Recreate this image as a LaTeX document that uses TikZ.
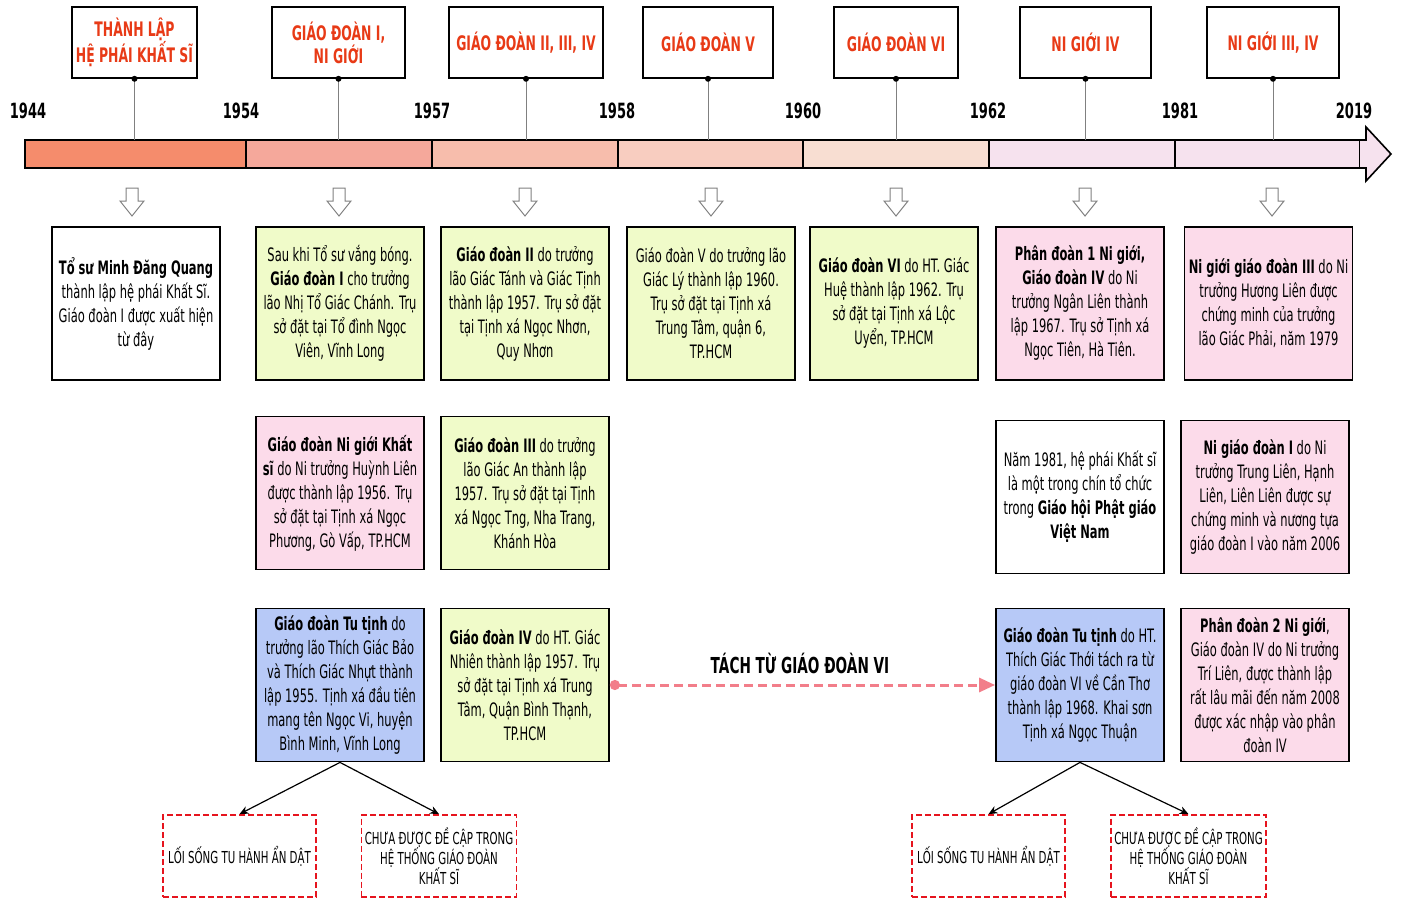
\documentclass[tikz,border=0pt]{standalone}
\usepackage{fontspec}
\setmainfont{DejaVu Sans}[FakeStretch=0.62]
\usetikzlibrary{arrows.meta}

\definecolor{labred}{RGB}{232,58,22}
\definecolor{boxyellow}{RGB}{240,251,201}
\definecolor{boxpink}{RGB}{252,219,234}
\definecolor{boxblue}{RGB}{183,201,247}
\definecolor{linkpink}{RGB}{242,126,138}
\definecolor{dashred}{RGB}{230,20,30}
\definecolor{segA}{RGB}{245,140,108}
\definecolor{segB}{RGB}{245,168,155}
\definecolor{segC}{RGB}{247,189,172}
\definecolor{segD}{RGB}{248,205,192}
\definecolor{segE}{RGB}{248,222,210}
\definecolor{segF}{RGB}{246,226,238}

\begin{document}
\begin{tikzpicture}[x=1pt, y=-1pt,
    labelbox/.style={draw, line width=1.6pt, fill=white, minimum height=71pt, inner sep=1pt,
        align=center, text=labred, font=\fontsize{20}{23}\selectfont\bfseries},
    infobox/.style={draw, line width=1.8pt, minimum width=168pt, minimum height=153pt,
        inner sep=1pt, align=center, font=\fontsize{18.5}{24}\selectfont},
    notebox/.style={draw=dashred, dash pattern=on 6pt off 3pt, line width=1.8pt,
        minimum width=153pt, minimum height=82pt, align=center, font=\fontsize{16.5}{20}\selectfont},
    yearlabel/.style={font=\fontsize{21}{24}\selectfont\bfseries},
    branch/.style={-{Stealth[length=9pt,width=8pt]}, line width=1.2pt},
    link/.style={{Circle[length=10pt]}-{Triangle[length=16pt,width=14pt]}, linkpink,
        line width=3pt, dash pattern=on 9pt off 5pt},
]
    \useasboundingbox (0,0) rectangle (1401,899);

    % Timeline bar
    \foreach \xa/\xb/\c in {25/246/segA, 246/432/segB, 432/618/segC, 618/803/segD,
                            803/989/segE, 989/1175/segF, 1175/1360/segF}
        \filldraw[fill=\c, line width=1.6pt] (\xa,140) rectangle (\xb,168);
    \fill[segF] (1360,140) -- (1366,140) -- (1366,127) -- (1391,154) -- (1366,181) -- (1366,168) -- (1360,168) -- cycle;
    \draw[line width=1.6pt] (1360,140) -- (1366,140) -- (1366,127) -- (1391,154) -- (1366,181) -- (1366,168) -- (1360,168);
    \coordinate (bartop) at (0,140);

    % Years
    \foreach \x/\yr in {28/1944, 241/1954, 432/1957, 617/1958, 803/1960, 988/1962, 1180/1981, 1354/2019}
        \node[yearlabel] (y\yr) at (\x,111) {\yr};

    % Period labels
    \node[labelbox, minimum width=125pt] (l1) at (134.5,42.5) {THÀNH LẬP\\HỆ PHÁI KHẤT SĨ};
    \node[labelbox, minimum width=133pt] (l2) at (338.5,42.5) {GIÁO ĐOÀN I,\\NI GIỚI};
    \node[labelbox, minimum width=154pt] (l3) at (526,42.5) {GIÁO ĐOÀN II, III, IV};
    \node[labelbox, minimum width=130pt] (l4) at (708,42.5) {GIÁO ĐOÀN V};
    \node[labelbox, minimum width=124pt] (l5) at (896,42.5) {GIÁO ĐOÀN VI};
    \node[labelbox, minimum width=131pt] (l6) at (1085.5,42.5) {NI GIỚI IV};
    \node[labelbox, minimum width=132pt] (l7) at (1273,42.5) {NI GIỚI III, IV};

    % Pins down to the bar
    \foreach \n in {l1, l2, l3, l4, l5, l6, l7} {
        \draw[gray, line width=0.8pt] (\n.south) -- (\n.south |- bartop);
        \fill (\n.south) circle (3pt);
    }

    % Hollow arrows
    \foreach \x in {132, 339, 525, 711, 896, 1085, 1272}
        \draw[gray, line width=1pt] (\x-6,188) -- (\x+6,188) -- (\x+6,201) -- (\x+12,201) -- (\x,216)
            -- (\x-12,201) -- (\x-6,201) -- cycle;

    % First row
    \node[infobox, fill=white] (a1) at (136,303.5) {\textbf{Tổ sư Minh Đăng Quang}\\thành lập hệ phái Khất Sĩ.\\Giáo đoàn I được xuất hiện\\từ đây};
    \node[infobox, fill=boxyellow] (b1) at (340,303.5) {Sau khi Tổ sư vắng bóng.\\\textbf{Giáo đoàn I} cho trưởng\\lão Nhị Tổ Giác Chánh. Trụ\\sở đặt tại Tổ đình Ngọc\\Viên, Vĩnh Long};
    \node[infobox, fill=boxyellow] (c1) at (525,303.5) {\textbf{Giáo đoàn II} do trưởng\\lão Giác Tánh và Giác Tịnh\\thành lập 1957. Trụ sở đặt\\tại Tịnh xá Ngọc Nhơn,\\Quy Nhơn};
    \node[infobox, fill=boxyellow] (d1) at (711,303.5) {Giáo đoàn V do trưởng lão\\Giác Lý thành lập 1960.\\Trụ sở đặt tại Tịnh xá\\Trung Tâm, quận 6,\\TP.HCM};
    \node[infobox, fill=boxyellow] (e1) at (894,303.5) {\textbf{Giáo đoàn VI} do HT. Giác\\Huệ thành lập 1962. Trụ\\sở đặt tại Tịnh xá Lộc\\Uyển, TP.HCM};
    \node[infobox, fill=boxpink] (f1) at (1080,303.5) {\textbf{Phân đoàn 1 Ni giới,}\\\textbf{Giáo đoàn IV} do Ni\\trưởng Ngân Liên thành\\lập 1967. Trụ sở Tịnh xá\\Ngọc Tiên, Hà Tiên.};
    \node[infobox, fill=boxpink] (g1) at (1268.5,303.5) {\textbf{Ni giới giáo đoàn III} do Ni\\trưởng Hương Liên được\\chứng minh của trưởng\\lão Giác Phải, năm 1979};

    % Second row
    \node[infobox, fill=boxpink] (b2) at (340,493) {\textbf{Giáo đoàn Ni giới Khất}\\\textbf{sĩ} do Ni trưởng Huỳnh Liên\\được thành lập 1956. Trụ\\sở đặt tại Tịnh xá Ngọc\\Phương, Gò Vấp, TP.HCM};
    \node[infobox, fill=boxyellow] (c2) at (525,493) {\textbf{Giáo đoàn III} do trưởng\\lão Giác An thành lập\\1957. Trụ sở đặt tại Tịnh\\xá Ngọc Tng, Nha Trang,\\Khánh Hòa};
    \node[infobox, fill=white] (f2) at (1080,497) {Năm 1981, hệ phái Khất sĩ\\là một trong chín tổ chức\\trong \textbf{Giáo hội Phật giáo}\\\textbf{Việt Nam}};
    \node[infobox, fill=boxpink] (g2) at (1265,497) {\textbf{Ni giáo đoàn I} do Ni\\trưởng Trung Liên, Hạnh\\Liên, Liên Liên được sự\\chứng minh và nương tựa\\giáo đoàn I vào năm 2006};

    % Third row
    \node[infobox, fill=boxblue] (b3) at (340,685) {\textbf{Giáo đoàn Tu tịnh} do\\trưởng lão Thích Giác Bảo\\và Thích Giác Nhựt thành\\lập 1955. Tịnh xá đầu tiên\\mang tên Ngọc Vi, huyện\\Bình Minh, Vĩnh Long};
    \node[infobox, fill=boxyellow] (c3) at (525,685) {\textbf{Giáo đoàn IV} do HT. Giác\\Nhiên thành lập 1957. Trụ\\sở đặt tại Tịnh xá Trung\\Tâm, Quận Bình Thạnh,\\TP.HCM};
    \node[infobox, fill=boxblue] (f3) at (1080,685) {\textbf{Giáo đoàn Tu tịnh} do HT.\\Thích Giác Thới tách ra từ\\giáo đoàn VI về Cần Thơ\\thành lập 1968. Khai sơn\\Tịnh xá Ngọc Thuận};
    \node[infobox, fill=boxpink] (g3) at (1265,685) {\textbf{Phân đoàn 2 Ni giới},\\Giáo đoàn IV do Ni trưởng\\Trí Liên, được thành lập\\rất lâu mãi đến năm 2008\\được xác nhập vào phân\\đoàn IV};

    % Split link
    \draw[link] (c3.east) -- (f3.west);
    \node[font=\fontsize{22}{24}\selectfont\bfseries] (split) at (800,663) {TÁCH TỪ GIÁO ĐOÀN VI};

    % Dashed notes
    \node[notebox] (n1) at (239.5,856) {LỐI SỐNG TU HÀNH ẨN DẬT};
    \node[notebox] (n2) at (439,856) {CHƯA ĐƯỢC ĐỀ CẬP TRONG\\HỆ THỐNG GIÁO ĐOÀN\\KHẤT SĨ};
    \node[notebox] (n3) at (988.5,856) {LỐI SỐNG TU HÀNH ẨN DẬT};
    \node[notebox] (n4) at (1188.5,856) {CHƯA ĐƯỢC ĐỀ CẬP TRONG\\HỆ THỐNG GIÁO ĐOÀN\\KHẤT SĨ};

    \draw[branch] (b3.south) -- (n1.north);
    \draw[branch] (b3.south) -- (n2.north);
    \draw[branch] (f3.south) -- (n3.north);
    \draw[branch] (f3.south) -- (n4.north);

\end{tikzpicture}
\end{document}
